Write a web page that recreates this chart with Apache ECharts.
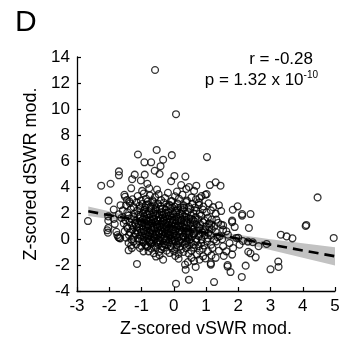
<!DOCTYPE html>
<html><head><meta charset="utf-8">
<script src="https://cdn.jsdelivr.net/npm/echarts@6/dist/echarts.min.js"></script>
<style>html,body{margin:0;padding:0;background:#fff}#c{width:353px;height:350px}</style>
</head><body><div id="c"></div>
<script>
// axis settings (tick labels)
const xTickMin = -3, xTickMax = 5, xTickStep = 1;
const yTickMin = -4, yTickMax = 14, yTickStep = 2;

// regression line endpoints
const fitX = [-2.65, 5];
const fitY = [2.13, -1.33];

// confidence band
const bandX    = [-2.65, -2, -1, 0, 1, 2, 3, 4, 5];
const bandHigh = [2.50, 2.13, 1.58, 1.08, 0.68, 0.33, -0.01, -0.32, -0.63];
const bandLow  = [1.76, 1.53, 1.18, 0.78, 0.28, -0.27, -0.85, -1.44, -2.03];

// scatter points [vSWR, dSWR]
const upperPoints = [[-0.58,13.0],[0.07,9.6],[-0.53,6.85],[-1.11,6.5],[-0.06,6.45],[1.03,6.3],[-0.91,5.9],[-0.7,5.9],[-0.33,6.1],[-0.41,5.6],[-0.59,5.25],[-0.44,5.0],[-1.7,5.2],[-1.7,4.9],[-2.25,4.1],[-1.96,4.25],[-1.21,4.95],[-1.02,4.5],[-0.9,4.95],[-1.29,4.6],[-0.82,4.25],[-0.76,3.9],[0.02,4.85],[-0.08,4.45],[0.36,4.8],[0.23,4.15],[0.39,3.85],[0.7,4.1],[0.63,3.7],[0.47,4.0],[1.12,4.15],[1.3,4.36],[1.45,4.1],[0.98,3.4],[1.02,3.46],[0.8,3.15],[0.78,2.8],[-1.32,3.9],[-2.02,2.95],[-1.53,3.4],[-1.51,3.25],[-1.45,3.0],[-1.38,2.9]];
const leftPoints = [[-2.66,1.38],[-2.03,1.41],[-2.03,1.74],[-2.06,0.67],[-2.04,0.49],[-2.03,0.85],[-1.86,2.26],[-1.86,1.54],[-1.83,1.15],[-1.75,0.3],[-1.72,0.15],[-1.69,0.08],[-1.66,0.05],[-1.78,0.55],[-1.65,2.6],[-1.7,1.9]];
const clusterTop = [[-1.28,3.05],[-1.12,3.3],[-1.02,2.95],[-0.93,3.5],[-0.86,3.1],[-0.74,3.35],[-0.66,2.98],[-0.58,3.22],[-0.47,3.45],[-0.39,3.0],[-0.27,3.15],[-0.18,3.55],[-0.08,2.92],[0.04,3.28],[0.16,3.1],[0.27,3.4],[0.41,2.95],[0.55,3.2],[0.69,3.05],[0.86,3.3],[-0.98,3.7],[-0.52,3.8],[0.1,3.65],[-0.8,2.9],
[-1.48,2.6],[-1.36,2.75],[-1.24,2.45],[-1.15,2.82],[-1.06,2.55],[-0.97,2.7],[-0.89,2.42],[-0.81,2.66],[-0.72,2.5],[-0.63,2.85],[-0.56,2.44],[-0.48,2.7],[-0.4,2.52],[-0.31,2.8],[-0.22,2.47],[-0.14,2.64],[-0.05,2.9],[0.03,2.5],[0.12,2.72],[0.21,2.43],[0.3,2.6],[0.38,2.85],[0.47,2.48],[0.58,2.7],[0.66,2.42],[0.78,2.62],[0.92,2.5],[1.08,2.75],[1.22,2.45],[1.4,2.6]];
const clusterMid = [[-1.58,2.2],[-1.44,2.05],[-1.33,2.3],[-1.22,1.95],[-1.13,2.18],[-1.04,2.36],[-0.96,2.0],[-0.9,2.25],[-0.83,1.92],[-0.77,2.12],[-0.7,2.35],[-0.64,2.02],[-0.57,2.2],[-0.51,1.95],[-0.44,2.3],[-0.37,2.08],[-0.3,1.9],[-0.24,2.25],[-0.17,2.04],[-0.1,2.32],[-0.03,1.96],[0.05,2.16],[0.13,2.38],[0.2,2.0],[0.28,2.22],[0.36,1.94],[0.44,2.12],[0.52,2.33],[0.61,1.98],[0.7,2.18],[0.8,1.93],[0.9,2.26],[1.02,2.05],[1.15,2.2],[1.3,1.95],[1.47,2.15],
[-1.62,1.62],[-1.5,1.45],[-1.4,1.8],[-1.31,1.55],[-1.24,1.7],[-1.17,1.42],[-1.1,1.85],[-1.03,1.6],[-0.97,1.48],[-0.92,1.75],[-0.86,1.52],[-0.81,1.88],[-0.76,1.65],[-0.71,1.43],[-0.66,1.72],[-0.61,1.55],[-0.56,1.82],[-0.51,1.46],[-0.46,1.68],[-0.41,1.58],[-0.36,1.86],[-0.31,1.44],[-0.26,1.7],[-0.21,1.53],[-0.16,1.8],[-0.11,1.47],[-0.06,1.64],[-0.01,1.9],[0.04,1.5],[0.09,1.73],[0.15,1.42],[0.21,1.62],[0.27,1.84],[0.33,1.49],[0.39,1.68],[0.46,1.55],[0.53,1.8],[0.6,1.45],[0.68,1.66],[0.76,1.52],[0.85,1.78],[0.95,1.44],[1.06,1.63],[1.18,1.5],[1.32,1.49],[1.47,1.1],
[-1.55,1.2],[-1.45,0.95],[-1.37,1.3],[-1.29,1.05],[-1.21,1.25],[-1.14,0.92],[-1.08,1.15],[-1.02,1.36],[-0.96,1.0],[-0.91,1.22],[-0.86,0.94],[-0.81,1.12],[-0.76,1.33],[-0.71,1.02],[-0.67,1.2],[-0.62,0.9],[-0.58,1.28],[-0.53,1.08],[-0.49,1.38],[-0.44,0.96],[-0.4,1.18],[-0.35,1.32],[-0.31,1.0],[-0.26,1.24],[-0.22,0.92],[-0.17,1.1],[-0.13,1.35],[-0.08,1.04],[-0.04,1.26],[0.01,0.95],[0.06,1.16],[0.11,1.37],[0.16,1.02],[0.22,1.22],[0.27,0.93],[0.33,1.12],[0.39,1.3],[0.45,0.98],[0.52,1.2],[0.59,1.06],[0.66,1.34],[0.74,0.94],[0.82,1.15],[0.91,1.28],[1.0,0.97],[1.1,1.2],[1.16,1.1],[1.25,0.95],[1.38,1.25],[1.53,1.05]];
const clusterCore = [[-1.05,1.75],[-0.98,1.25],[-0.93,0.6],[-0.88,2.05],[-0.84,1.38],[-0.79,0.3],[-0.74,1.9],[-0.69,0.85],[-0.65,1.5],[-0.6,0.15],[-0.57,2.3],[-0.52,1.15],[-0.48,0.55],[-0.43,1.9],[-0.38,0.9],[-0.34,1.6],[-0.29,0.05],[-0.25,2.0],[-0.21,1.3],[-0.17,0.45],[-0.12,1.75],[-0.07,0.85],[-0.02,1.45],[0.03,0.25],[0.08,2.05],[0.13,1.05],[0.18,0.6],[0.23,1.45],[0.28,0.2],[0.33,1.75],[0.38,0.85],[0.43,1.25],[0.48,0.3],[0.55,1.55],[0.62,0.75],[-0.95,-0.2],[-0.72,-0.3],[-0.5,-0.25],[-0.27,-0.45],[-0.05,-0.1],[0.17,-0.15],[0.39,-0.3],[-1.12,0.5],[-1.18,1.05],[-0.86,2.6],[-0.6,2.6],[-0.35,2.35],[-0.12,2.55],[0.1,2.2],[0.32,2.4],[-0.78,1.05],[-0.55,0.35],[-0.3,0.65],[-0.1,0.3],[0.2,0.95],[0.45,0.1],[0.7,1.1],[0.8,0.35],[0.95,0.6],[1.1,0.9]];
const clusterLow = [[-1.52,0.6],[-1.43,0.82],[-1.36,0.5],[-1.28,0.72],[-1.2,0.45],[-1.13,0.66],[-1.07,0.85],[-1.01,0.52],[-0.95,0.74],[-0.9,0.42],[-0.85,0.63],[-0.8,0.86],[-0.75,0.5],[-0.7,0.7],[-0.65,0.44],[-0.6,0.8],[-0.55,0.58],[-0.5,0.88],[-0.45,0.47],[-0.4,0.68],[-0.35,0.55],[-0.3,0.84],[-0.25,0.43],[-0.2,0.64],[-0.15,0.78],[-0.1,0.5],[-0.05,0.72],[0.0,0.41],[0.05,0.6],[0.1,0.86],[0.15,0.48],[0.2,0.7],[0.26,0.56],[0.32,0.82],[0.38,0.45],[0.44,0.66],[0.5,0.52],[0.57,0.78],[0.64,0.44],[0.72,0.62],[0.8,0.85],[0.88,0.5],[0.97,0.7],[1.07,0.46],[1.18,0.75],[1.3,0.55],[1.42,0.2],[1.53,0.72],[1.63,0.59],
[-1.48,0.1],[-1.39,0.3],[-1.31,-0.05],[-1.24,0.18],[-1.17,0.36],[-1.1,0.02],[-1.04,0.25],[-0.98,-0.08],[-0.93,0.14],[-0.88,0.34],[-0.83,0.0],[-0.78,0.22],[-0.73,-0.06],[-0.68,0.12],[-0.63,0.32],[-0.58,0.04],[-0.53,0.26],[-0.48,-0.1],[-0.43,0.16],[-0.38,0.38],[-0.33,0.02],[-0.28,0.24],[-0.23,-0.04],[-0.18,0.12],[-0.13,0.33],[-0.08,0.06],[-0.03,0.2],[0.02,-0.07],[0.07,0.28],[0.12,0.08],[0.18,0.35],[0.24,-0.02],[0.3,0.18],[0.36,0.05],[0.42,0.3],[0.49,-0.06],[0.56,0.15],[0.63,0.36],[0.7,0.0],[0.78,0.22],[0.87,-0.04],[0.96,0.28],[1.05,0.06],[1.15,0.3],[1.25,-0.05],[1.36,0.14],[1.5,-0.02],[1.68,0.33],
[-1.4,-0.3],[-1.32,-0.5],[-1.25,-0.2],[-1.16,-0.42],[-1.08,-0.15],[-1.0,-0.55],[-0.94,-0.28],[-0.87,-0.45],[-0.82,-0.55],[-0.76,-0.2],[-0.7,-0.38],[-0.64,-0.12],[-0.59,-0.52],[-0.54,-0.3],[-0.47,-0.44],[-0.41,-0.18],[-0.36,-0.58],[-0.31,-0.33],[-0.25,-0.14],[-0.2,-0.48],[-0.14,-0.26],[-0.09,-0.56],[-0.03,-0.36],[0.03,-0.16],[0.09,-0.46],[0.14,-0.3],[0.2,-0.58],[0.27,-0.22],[0.34,-0.42],[0.41,-0.14],[0.48,-0.5],[0.55,-0.28],[0.62,-0.45],[0.7,-0.2],[0.77,-0.55],[0.85,-0.32],[0.94,-0.5],[1.03,-0.2],[1.16,-0.44],[1.32,-0.18],[1.53,-0.56],[1.73,-0.31]];
const clusterBottom = [[-1.4,-0.87],[-1.3,-0.7],[-1.05,-0.69],[-0.94,-0.95],[-0.82,-0.62],[-0.78,-0.95],[-0.7,-0.75],[-0.62,-1.1],[-0.55,-0.68],[-0.46,-1.0],[-0.44,-1.25],[-0.38,-0.8],[-0.3,-0.66],[-0.22,-0.9],[-0.13,-1.08],[-0.06,-0.72],[0.01,-0.95],[0.08,-0.65],[0.15,-1.15],[0.22,-0.82],[0.3,-1.0],[0.38,-0.7],[0.46,-1.12],[0.54,-0.88],[0.62,-0.66],[0.72,-1.2],[0.8,-0.9],[0.9,-0.75],[1.06,-0.95],[1.2,-0.7],[1.4,-0.9],[1.63,-0.95],[1.84,-0.69],
[-1.14,-1.92],[-0.33,-1.59],[0.15,-1.51],[0.35,-1.97],[0.63,-1.7],[0.8,-1.59],[0.91,-1.33],[0.98,-1.5],[1.15,-1.87],[1.17,-1.26],[1.81,-1.2],[0.44,-1.77],[-0.55,-1.35],[0.05,-1.3],[0.55,-1.45],[1.3,-1.45],[1.55,-1.3],
[0.07,-3.44],[0.47,-3.13],[0.37,-2.36],[0.68,-2.15],[1.15,-1.97],[1.25,-3.31],[1.67,-2.0],[1.67,-2.12],[1.76,-2.54],[2.11,-2.92],[2.23,-2.05],[3.0,-2.33],[3.24,-1.73],[3.25,-2.15],[2.54,-1.41],[2.38,-1.1],[2.31,-0.98]];
const rightPoints = [[1.81,1.41],[1.81,1.3],[1.89,0.92],[1.98,2.51],[1.83,2.25],[2.12,1.92],[2.12,1.8],[2.38,1.92],[2.33,0.85],[2.14,-0.15],[2.3,-0.2],[2.45,-0.25],[2.63,-0.55],[2.88,-0.38],[3.32,0.33],[3.5,0.2],[3.68,0.05],[4.96,0.08],[4.46,3.2],[4.09,1.0],[4.11,1.08],[2.0,0.1],[2.04,-0.44],[1.94,0.08]];

const allPoints = [].concat(upperPoints, leftPoints, clusterTop, clusterMid, clusterCore, clusterLow, clusterBottom, rightPoints);

const FONT = '"Liberation Sans", Arial, Helvetica, sans-serif';
const chart = echarts.init(document.getElementById('c'), null, {renderer: 'canvas'});
chart.setOption({
  animation: false,
  backgroundColor: '#fff',
  grid: {left: 77, right: 18, top: 57, bottom: 59, containLabel: false},
  xAxis: {
    type: 'value', min: xTickMin, max: xTickMax, interval: xTickStep,
    name: 'Z-scored vSWR mod.', nameLocation: 'middle', nameGap: 26,
    nameTextStyle: {fontSize: 18, color: '#000', fontFamily: FONT},
    axisLine: {onZero: false, lineStyle: {color: '#000', width: 1.3}},
    axisTick: {inside: true, length: 4, lineStyle: {color: '#000', width: 1.2}},
    axisLabel: {fontSize: 17, color: '#000', fontFamily: FONT, margin: 7},
    splitLine: {show: false}
  },
  yAxis: {
    type: 'value', min: yTickMin, max: yTickMax, interval: yTickStep,
    name: 'Z-scored dSWR mod.', nameLocation: 'middle', nameGap: 37,
    nameTextStyle: {fontSize: 18, color: '#000', fontFamily: FONT},
    axisLine: {show: true, onZero: false, lineStyle: {color: '#000', width: 1.3}},
    axisTick: {show: true, inside: true, length: 4, lineStyle: {color: '#000', width: 1.2}},
    axisLabel: {fontSize: 17, color: '#000', fontFamily: FONT, margin: 7},
    splitLine: {show: false}
  },
  graphic: [
    {type: 'text', left: 15, top: 8, style: {text: 'D', fontSize: 30, fill: '#000', fontFamily: FONT}},
    {type: 'text', right: 40, top: 51, style: {text: 'r = -0.28', fontSize: 17, fill: '#000', fontFamily: FONT, align: 'right'}},
    {type: 'text', right: 35, top: 70, style: {
      text: '{a|p = 1.32 x 10}{s|-10}', fill: '#000', fontFamily: FONT,
      rich: {a: {fontSize: 17, fontFamily: FONT, lineHeight: 19, verticalAlign: 'bottom'},
             s: {fontSize: 10, fontFamily: FONT, lineHeight: 10, verticalAlign: 'top'}}
    }}
  ],
  series: [
    {
      type: 'custom', z: 1, silent: true,
      data: [[bandX[0], bandLow[0]]],
      renderItem: function (params, api) {
        const pts = [];
        for (let i = 0; i < bandX.length; i++) pts.push(api.coord([bandX[i], bandHigh[i]]));
        for (let i = bandX.length - 1; i >= 0; i--) pts.push(api.coord([bandX[i], bandLow[i]]));
        return {type: 'polygon', shape: {points: pts}, style: {fill: '#c2c2c2', stroke: null}};
      }
    },
    {
      type: 'line', z: 2, silent: true, symbol: 'none',
      data: fitX.map((x, i) => [x, fitY[i]]),
      lineStyle: {color: '#000', width: 2.6, type: [10, 6]}
    },
    {
      type: 'scatter', z: 3, silent: true,
      data: allPoints, symbol: 'circle', symbolSize: 6.8,
      itemStyle: {color: 'rgba(0,0,0,0)', borderColor: '#000', borderWidth: 1.3}
    }
  ]
});
</script></body></html>
